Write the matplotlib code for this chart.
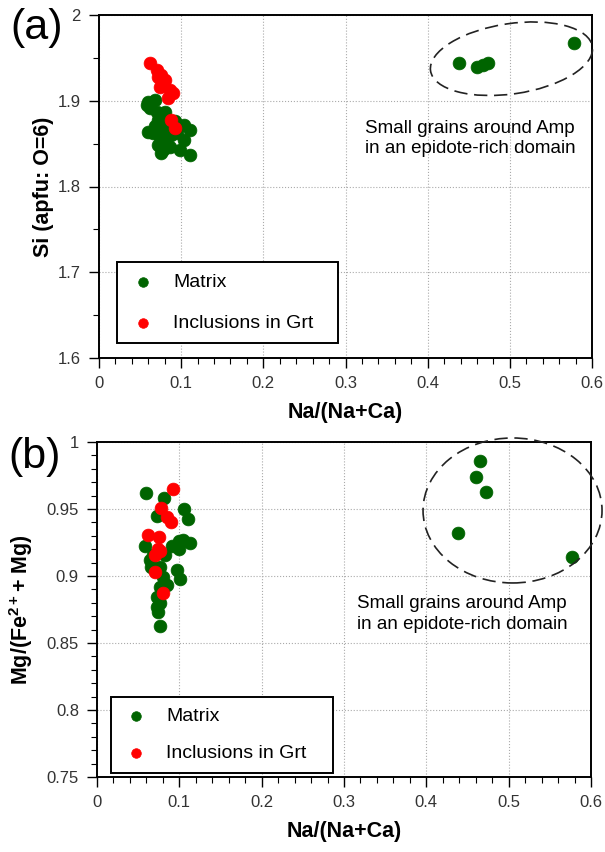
import matplotlib
matplotlib.use('Agg')
import matplotlib.pyplot as plt
from matplotlib.patches import Ellipse
from matplotlib.ticker import MultipleLocator, FormatStrFormatter

plt.rcParams['font.family'] = ['Liberation Sans', 'DejaVu Sans']
plt.rcParams['mathtext.fontset'] = 'custom'
plt.rcParams['mathtext.rm'] = 'Liberation Sans'
plt.rcParams['mathtext.bf'] = 'Liberation Sans:bold'

GREEN = '#006400'
RED = '#ff0000'

# ---- panel (a): Si vs Na/(Na+Ca)
a_matrix_x = [0.060, 0.068, 0.062, 0.070, 0.076, 0.080, 0.072, 0.078, 0.103, 0.111,
              0.066, 0.074, 0.082, 0.086, 0.076, 0.103, 0.111, 0.099, 0.082, 0.068,
              0.058, 0.060, 0.093, 0.072, 0.088, 0.078, 0.070, 0.095,
              0.438, 0.460, 0.467, 0.473, 0.578]
a_matrix_y = [1.899, 1.901, 1.891, 1.887, 1.885, 1.887, 1.878, 1.874, 1.872, 1.866,
              1.862, 1.858, 1.854, 1.846, 1.839, 1.854, 1.837, 1.843, 1.866, 1.870,
              1.895, 1.864, 1.876, 1.848, 1.860, 1.842, 1.868, 1.862,
              1.944, 1.939, 1.942, 1.944, 1.967]
a_incl_x = [0.062, 0.070, 0.072, 0.080, 0.074, 0.086, 0.084, 0.088, 0.092, 0.090, 0.076]
a_incl_y = [1.944, 1.936, 1.928, 1.924, 1.916, 1.913, 1.903, 1.878, 1.868, 1.909, 1.930]

# ---- panel (b): Mg# vs Na/(Na+Ca)
b_matrix_x = [0.060, 0.081, 0.106, 0.111, 0.0725, 0.058, 0.0907, 0.100, 0.113, 0.100,
              0.0826, 0.0644, 0.0968, 0.1008, 0.0765, 0.080, 0.0765, 0.0847, 0.0725, 0.0765,
              0.0745, 0.0725, 0.066, 0.068, 0.077, 0.105,
              0.465, 0.460, 0.4725, 0.438, 0.5766]
b_matrix_y = [0.962, 0.958, 0.950, 0.9425, 0.945, 0.9226, 0.9224, 0.926, 0.925, 0.920,
              0.9157, 0.912, 0.9045, 0.8975, 0.907, 0.899, 0.892, 0.893, 0.8845, 0.8796,
              0.8734, 0.877, 0.907, 0.9157, 0.863, 0.927,
              0.986, 0.974, 0.963, 0.932, 0.914]
b_incl_x = [0.092, 0.0777, 0.0854, 0.0895, 0.0623, 0.0753, 0.0745, 0.0705, 0.0705, 0.0798, 0.0765]
b_incl_y = [0.9647, 0.9505, 0.9438, 0.940, 0.9306, 0.9293, 0.920, 0.9157, 0.9032, 0.887, 0.9187]

note = "Small grains around Amp\nin an epidote-rich domain"

fig = plt.figure(figsize=(6.05, 8.52), dpi=100)
ax_a = fig.add_axes([99 / 605, 1 - 358 / 852, 493 / 605, 343 / 852])
ax_b = fig.add_axes([97 / 605, 1 - 777 / 852, 494 / 605, 335 / 852])


def style_axes(ax, ylim, ymajor, yminor):
    ax.set_xlim(0, 0.6)
    ax.set_ylim(*ylim)
    ax.xaxis.set_major_locator(MultipleLocator(0.1))
    ax.xaxis.set_minor_locator(MultipleLocator(0.02))
    ax.yaxis.set_major_locator(MultipleLocator(ymajor))
    ax.yaxis.set_minor_locator(MultipleLocator(yminor))
    ax.xaxis.set_major_formatter(FormatStrFormatter('%g'))
    ax.yaxis.set_major_formatter(FormatStrFormatter('%g'))
    ax.tick_params(which='major', direction='out', length=7, width=1.0,
                   labelsize=12, labelcolor='#333333', pad=6)
    ax.tick_params(which='minor', direction='out', length=4, width=0.8)
    for s in ax.spines.values():
        s.set_linewidth(1.4)
    ax.grid(True, which='major', linestyle=':', color='#aaaaaa', linewidth=0.8)
    ax.set_axisbelow(True)
    ax.set_xlabel("Na/(Na+Ca)", fontsize=15.5, fontweight='bold', labelpad=8)


def draw_points(ax, mx, my, ix, iy, box, pad, spacing):
    ax.scatter(mx, my, s=85, color=GREEN, edgecolors=GREEN, linewidths=0.5,
               label="Matrix", zorder=3)
    ax.scatter(ix, iy, s=85, color=RED, edgecolors=RED, linewidths=0.5,
               label="Inclusions in Grt", zorder=4)
    leg = ax.legend(loc='upper left', bbox_to_anchor=box, mode='expand', borderaxespad=0,
                    fontsize=14, frameon=True, fancybox=False, markerscale=0.75,
                    borderpad=pad, handlelength=1.5, handletextpad=0.8,
                    labelspacing=spacing)
    leg.get_frame().set_edgecolor('black')
    leg.get_frame().set_linewidth(1.4)
    leg.get_frame().set_alpha(1)


def draw_ellipse(ax, center, w, h, angle):
    # w, h in data units of the axes
    e = Ellipse(center, w, h, angle=angle, fill=False, edgecolor='#222222',
                linewidth=1.2, linestyle=(0, (8, 4)), clip_on=False, zorder=5)
    ax.add_patch(e)


# (a)
style_axes(ax_a, (1.6, 2.0), 0.1, 0.05)
ax_a.set_ylabel("Si (apfu: O=6)", fontsize=15.5, fontweight='bold', labelpad=3)
draw_points(ax_a, a_matrix_x, a_matrix_y, a_incl_x, a_incl_y,
            (0.0365, 0.0, 0.448, 0.28), 0.58, 1.2)
draw_ellipse(ax_a, (0.502, 1.949), 0.199, 0.082, 8)
ax_a.text(0.324, 1.856, note, fontsize=13.5, ha='left', va='center', linespacing=1.25)
fig.text(10 / 605, 1 - 28 / 852, "(a)", fontsize=31, ha='left', va='center')

# (b)
style_axes(ax_b, (0.75, 1.0), 0.05, 0.01)
ax_b.set_ylabel(r"Mg/(Fe$^{\mathbf{2+}}$+ Mg)", fontsize=15.5, fontweight='bold', labelpad=8)
draw_points(ax_b, b_matrix_x, b_matrix_y, b_incl_x, b_incl_y,
            (0.0283, 0.0, 0.449, 0.2388), 0.55, 1.0)
draw_ellipse(ax_b, (0.5047, 0.9489), 0.2174, 0.1082, 0)
ax_b.text(0.316, 0.8716, note, fontsize=13.5, ha='left', va='center', linespacing=1.25)
fig.text(8 / 605, 1 - 457 / 852, "(b)", fontsize=31, ha='left', va='center')

fig.savefig("out.png", dpi=100)
